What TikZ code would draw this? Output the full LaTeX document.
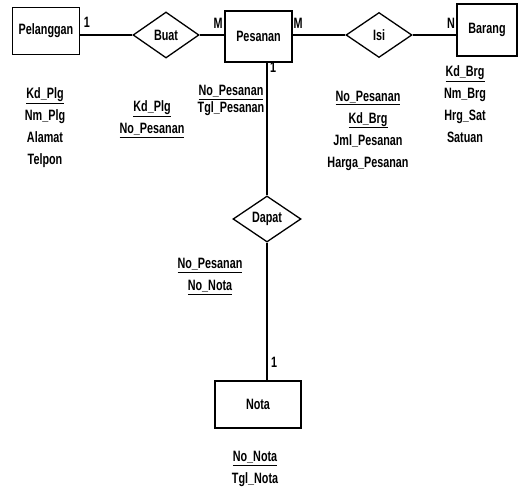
\documentclass[tikz,border=0pt]{standalone}
\usepackage{fontspec}
\setmainfont{Liberation Sans}[FakeStretch=0.72]
\usepackage{tikz}
\usetikzlibrary{shapes,positioning}
\newcommand{\erfont}{\fontsize{15}{22}\selectfont\bfseries}
\newcommand{\erfontb}{\fontsize{15}{17}\selectfont\bfseries}
\tikzstyle{entity}=[rectangle, draw=black, line width=1.3pt, font=\erfont]
\tikzstyle{rel}=[diamond, draw=black, line width=1.3pt, inner sep=0pt, font=\erfont]
\tikzstyle{attr}=[align=center, inner sep=0pt, font=\erfont]
\tikzstyle{card}=[inner sep=0pt, font=\erfont]

\begin{document}
\begin{tikzpicture}[x=1pt, y=-1pt, line width=1.3pt]
          \useasboundingbox (0,0) rectangle (522,489);
          % entities and relations
          \node at (46,31) [entity, minimum width=67pt, minimum height=47pt] (pelanggan) {Pelanggan};
          \node at (166,35) [rel, minimum width=66pt, minimum height=46pt] (buat) {Buat};
          \node at (258.5,36.5) [entity, minimum width=67pt, minimum height=51pt] (pesanan) {Pesanan};
          \node at (379,35) [rel, minimum width=66pt, minimum height=45pt] (isi) {Isi};
          \node at (487,30) [entity, minimum width=60pt, minimum height=52pt] (barang) {Barang};
          \node at (267,219) [rel, minimum width=68pt, minimum height=46pt] (dapat) {Dapat};
          \node at (258,404.5) [entity, minimum width=86pt, minimum height=47pt] (nota) {Nota};
          % links
          \draw (buat.west) -- (buat.west -| pelanggan.east);
          \draw (buat.east) -- (buat.east -| pesanan.west);
          \draw (isi.west) -- (isi.west -| pesanan.east);
          \draw (isi.east) -- (isi.east -| barang.west);
          \draw (dapat.north) -- (dapat.north |- pesanan.south);
          \draw (dapat.south) -- (dapat.south |- nota.north);
          % cardinalities
          \node at (87,22) [card] (c1) {1};
          \node at (218,23) [card] (c2) {M};
          \node at (298,23) [card] (c3) {M};
          \node at (451,23) [card] (c4) {N};
          \node at (273,67) [card] (c5) {1};
          \node at (274,362) [card] (c6) {1};
          % attributes
          \node at (45,127.5) [attr] (apelanggan) {\underline{Kd\_Plg}\\Nm\_Plg\\Alamat\\Telpon};
          \node at (152,119) [attr] (abuat) {\underline{Kd\_Plg}\\\underline{No\_Pesanan}};
          \node at (231,100.5) [attr, font=\erfontb] (apesanan) {\underline{No\_Pesanan}\\Tgl\_Pesanan};
          \node at (368,130.5) [attr] (aisi) {\underline{No\_Pesanan}\\\underline{Kd\_Brg}\\Jml\_Pesanan\\Harga\_Pesanan};
          \node at (465,104.5) [attr] (abarang) {\underline{Kd\_Brg}\\Nm\_Brg\\Hrg\_Sat\\Satuan};
          \node at (210,276.5) [attr] (adapat) {\underline{No\_Pesanan}\\\underline{No\_Nota}};
          \node at (255,469) [attr] (anota) {\underline{No\_Nota}\\Tgl\_Nota};
          % 
\end{tikzpicture}
\end{document}
